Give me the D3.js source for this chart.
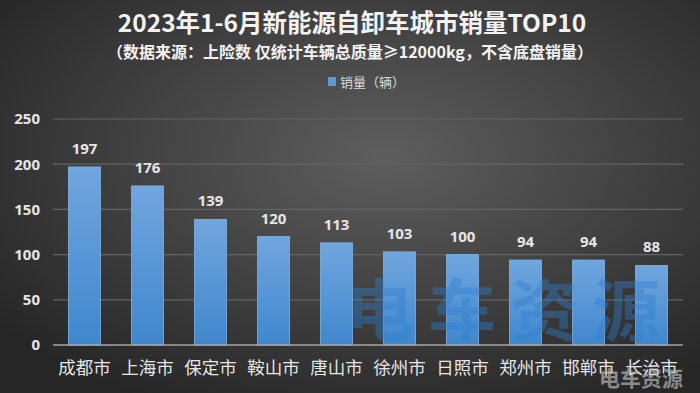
<!DOCTYPE html>
<html>
<head>
<meta charset="utf-8">
<script src="https://cdn.jsdelivr.net/npm/d3@7"></script>
<style>
  body { margin: 0; background: #333; }
  svg { display: block; }
</style>
</head>
<body>
<div id="chart"></div>
<script>
// Data
var cities = ["成都市", "上海市", "保定市", "鞍山市", "唐山市", "徐州市", "日照市", "郑州市", "邯郸市", "长治市"];
var sales = [197, 176, 139, 120, 113, 103, 100, 94, 94, 88];
var yTicks = [0, 50, 100, 150, 200, 250];

var svgWidth = 700;
var svgHeight = 393;

var margin = { top: 119, right: 17, bottom: 48, left: 53 };
var width = svgWidth - margin.left - margin.right;
var height = svgHeight - margin.top - margin.bottom;

var cjk = "'Noto Sans CJK SC', 'Noto Sans', sans-serif";

var svg = d3.select("#chart")
    .append("svg")
    .attr("width", svgWidth)
    .attr("height", svgHeight);

var defs = svg.append("defs");

// Background gradient
var bg = defs.append("radialGradient")
    .attr("id", "bg")
    .attr("cx", "55%").attr("cy", "40%").attr("r", "70%");
bg.append("stop").attr("offset", "0%").attr("stop-color", "#5e5e5e");
bg.append("stop").attr("offset", "100%").attr("stop-color", "#262626");

// Bar gradient
var barGrad = defs.append("linearGradient")
    .attr("id", "barGrad")
    .attr("x1", 0).attr("y1", 0).attr("x2", 0).attr("y2", 1);
barGrad.append("stop").attr("offset", "0%").attr("stop-color", "#71a6de");
barGrad.append("stop").attr("offset", "100%").attr("stop-color", "#3f87cd");

svg.append("rect")
    .attr("width", svgWidth)
    .attr("height", svgHeight)
    .attr("fill", "url(#bg)");

// Title
svg.append("text")
    .attr("x", 352)
    .attr("y", 32)
    .attr("text-anchor", "middle")
    .attr("font-family", cjk)
    .attr("font-weight", "bold")
    .attr("font-size", 24.5)
    .attr("fill", "#f2f2f2")
    .text("2023年1-6月新能源自卸车城市销量TOP10");

svg.append("text")
    .attr("x", 350)
    .attr("y", 58)
    .attr("text-anchor", "middle")
    .attr("font-family", cjk)
    .attr("font-weight", "bold")
    .attr("font-size", 16)
    .attr("fill", "#f2f2f2")
    .text("（数据来源：上险数 仅统计车辆总质量≥12000kg，不含底盘销量）");

// Legend
svg.append("rect")
    .attr("x", 328)
    .attr("y", 77)
    .attr("width", 8)
    .attr("height", 9)
    .attr("fill", "#5b9bd5");

svg.append("text")
    .attr("x", 340)
    .attr("y", 87)
    .attr("font-family", cjk)
    .attr("font-size", 13)
    .attr("fill", "#d9d9d9")
    .text("销量（辆）");

var chartGroup = svg.append("g")
    .attr("transform", `translate(${margin.left}, ${margin.top})`);

// Scales
var xScale = d3.scaleBand()
    .domain(cities)
    .range([0, width])
    .paddingInner(0.49)
    .paddingOuter(0.245);

var yScale = d3.scaleLinear()
    .domain([0, 250])
    .range([height, 0]);

// Grid lines
chartGroup.append("g")
    .selectAll("line")
    .data(yTicks.slice(1))
    .enter()
    .append("line")
    .attr("x1", 0)
    .attr("x2", width)
    .attr("y1", d => yScale(d))
    .attr("y2", d => yScale(d))
    .attr("stroke", "#636363")
    .attr("stroke-width", 1.2);

// Y axis labels
var leftAxis = d3.axisLeft(yScale).tickValues(yTicks).tickSize(0).tickPadding(13);
var yAxis = chartGroup.append("g").call(leftAxis);
yAxis.select(".domain").remove();
yAxis.selectAll("text")
    .attr("font-family", "'Open Sans', 'DejaVu Sans', sans-serif")
    .attr("font-weight", "bold")
    .attr("font-size", 15)
    .attr("fill", "#e6e6e6");

// Bars
chartGroup.selectAll(".bar")
    .data(sales)
    .enter()
    .append("rect")
    .attr("class", "bar")
    .attr("x", (d, i) => xScale(cities[i]))
    .attr("y", d => yScale(d))
    .attr("width", xScale.bandwidth())
    .attr("height", d => height - yScale(d))
    .attr("fill", "url(#barGrad)")
    .attr("stroke", "#7fb0e2")
    .attr("stroke-width", 0.8);

// Watermark (big)
svg.append("text")
    .attr("x", 510)
    .attr("y", 336)
    .attr("text-anchor", "middle")
    .attr("font-family", cjk)
    .attr("font-weight", "bold")
    .attr("font-size", 68)
    .attr("letter-spacing", 14)
    .attr("fill", "#2f7fd0")
    .attr("opacity", 0.4)
    .text("电车资源");

// Baseline
chartGroup.append("line")
    .attr("x1", 0)
    .attr("x2", width)
    .attr("y1", height)
    .attr("y2", height)
    .attr("stroke", "#a6a6a6")
    .attr("stroke-width", 1.5);

// Value labels
chartGroup.selectAll(".val")
    .data(sales)
    .enter()
    .append("text")
    .attr("class", "val")
    .attr("x", (d, i) => xScale(cities[i]) + xScale.bandwidth() / 2)
    .attr("y", d => yScale(d) - 13)
    .attr("text-anchor", "middle")
    .attr("font-family", "'Open Sans', 'DejaVu Sans', sans-serif")
    .attr("font-weight", "bold")
    .attr("font-size", 15)
    .attr("fill", "#e6e6e6")
    .text(d => d);

// X labels
chartGroup.selectAll(".xlab")
    .data(cities)
    .enter()
    .append("text")
    .attr("class", "xlab")
    .attr("x", d => xScale(d) + xScale.bandwidth() / 2)
    .attr("y", height + 29)
    .attr("text-anchor", "middle")
    .attr("font-family", cjk)
    .attr("font-size", 17.5)
    .attr("fill", "#e6e6e6")
    .text(d => d);

// Watermark (corner)
svg.append("text")
    .attr("x", 641)
    .attr("y", 386)
    .attr("text-anchor", "middle")
    .attr("font-family", cjk)
    .attr("font-weight", "bold")
    .attr("font-size", 21)
    .attr("fill", "#bfbfbf")
    .attr("opacity", 0.65)
    .text("电车资源");
</script>
</body>
</html>
